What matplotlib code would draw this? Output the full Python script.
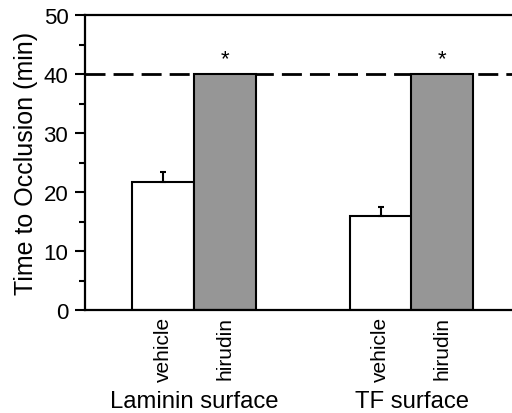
import matplotlib
matplotlib.use("Agg")
import matplotlib.pyplot as plt
from matplotlib.ticker import MultipleLocator
import matplotlib.transforms as mtransforms

plt.rcParams['font.family'] = ['Liberation Sans', 'DejaVu Sans']

treatments = ["vehicle", "hirudin", "vehicle", "hirudin"]
surfaces = ["Laminin surface", "TF surface"]
values = [21.7, 40.0, 16.0, 40.0]
errors = [1.7, 0.0, 1.4, 0.0]
colors = ["white", "#969696", "white", "#969696"]
significant = [False, True, False, True]
cutoff = 40
positions = [1.26, 2.25, 4.76, 5.74]
group_centers = [1.755, 5.27]

fig = plt.figure(figsize=(5.12, 4.14), dpi=100)
ax = fig.add_axes([85/512, 103/414, 435/512, 295/414])

ax.bar(positions, values, width=1.0, color=colors, edgecolor="black", linewidth=1.5, zorder=2)
for p, v, e in zip(positions, values, errors):
    if e > 0:
        ax.errorbar(p, v, yerr=[[0], [e]], fmt="none", ecolor="black", elinewidth=1.5, capsize=2, capthick=1.5, zorder=3)
for p, v, s in zip(positions, values, significant):
    if s:
        ax.text(p, v + 0.9, "*", ha="center", va="bottom", fontsize=16)

ax.axhline(cutoff, color="black", linestyle=(0, (7.2, 2.9)), linewidth=2.0, zorder=1)

ax.set_xlim(0, 7)
ax.set_ylim(0, 50)
ax.yaxis.set_major_locator(MultipleLocator(10))
ax.yaxis.set_minor_locator(MultipleLocator(5))
ax.tick_params(axis="y", which="major", length=7, width=1.5, labelsize=16, pad=5, direction="out")
ax.tick_params(axis="y", which="minor", length=4, width=1.5, direction="out")
ax.set_xticks(positions)
ax.set_xticklabels(treatments, rotation=90, fontsize=15)
ax.tick_params(axis="x", length=0, pad=4)
ax.set_ylabel("Time to Occlusion (min)", fontsize=18)
ax.yaxis.set_label_coords(-0.107, 0.5)

for sp in ["left", "bottom", "top"]:
    ax.spines[sp].set_linewidth(1.6)
ax.spines["right"].set_visible(False)

trans = mtransforms.blended_transform_factory(ax.transData, fig.transFigure)
for c, s in zip(group_centers, surfaces):
    ax.text(c, 6/414, s, ha="center", va="baseline", fontsize=17.2, transform=trans)

fig.savefig("out.png", dpi=100)
